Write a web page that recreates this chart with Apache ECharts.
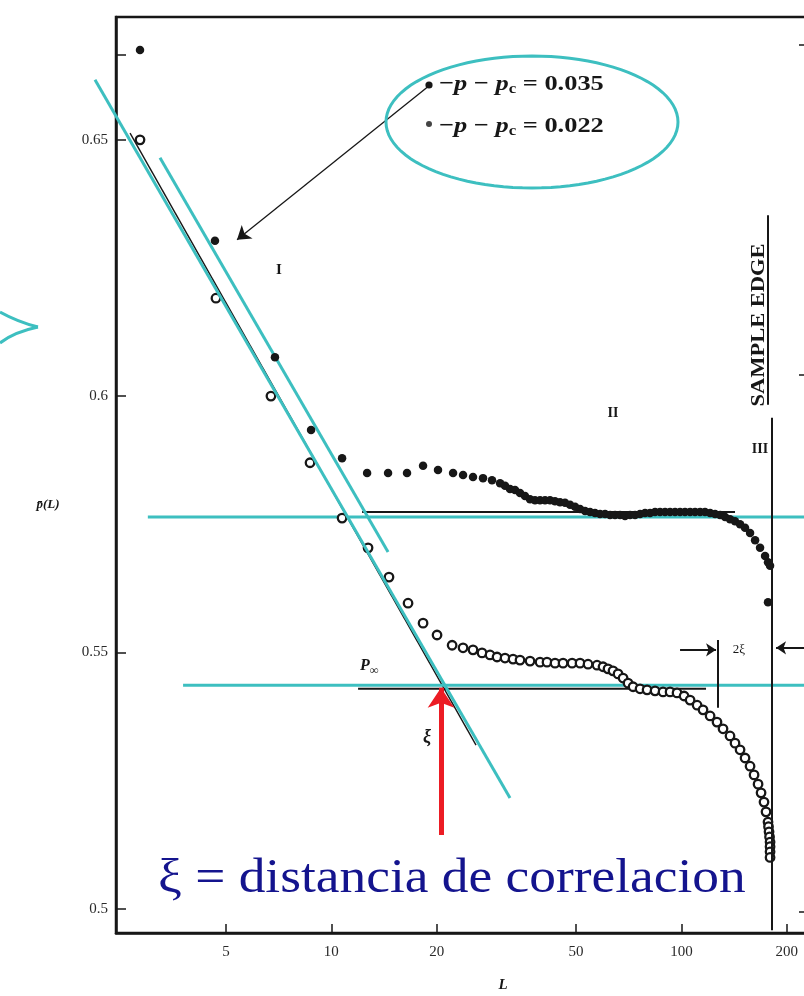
<!DOCTYPE html>
<html>
<head>
<meta charset="utf-8">
<script src="https://cdn.jsdelivr.net/npm/echarts@6/dist/echarts.min.js"></script>
<style>
  html, body { margin: 0; padding: 0; background: #fff; }
  #c { width: 804px; height: 996px; }
</style>
</head>
<body>
<div id="c"></div>
<script>
// Axis ticks
const xTicks = [5, 10, 20, 50, 100, 200];
const yTicks = [0.5, 0.55, 0.6, 0.65];
const yTicksExtra = [0.5, 0.55, 0.6, 0.65, 0.6665];
const yTicksRight = [0.4995, 0.6041, 0.6685];

// p - pc = 0.035 (filled dots)
const L035 = [2.84, 4.65, 6.90, 8.75, 10.73, 12.65, 14.52, 16.45, 18.28, 20.17, 22.27, 23.78, 25.39, 27.12, 28.77, 30.34,
  31.34, 32.39, 33.47, 34.59, 35.75, 36.95, 38.18, 39.46, 40.78, 42.14, 43.55, 45.01, 46.51, 48.07, 49.68, 51.34,
  53.06, 54.83, 56.66, 58.56, 60.52, 62.54, 64.63, 66.80, 69.02, 71.34, 73.72, 76.19, 78.74, 81.37, 84.09, 86.90,
  89.81, 92.82, 95.91, 99.12, 102.4, 105.9, 109.4, 113.1, 116.8, 120.8, 124.8, 129.0, 133.3, 137.7, 142.3, 147.1,
  152.0, 157.1, 162.4, 167.8, 173.4, 176.8, 179.2, 176.8];
const P035 = [0.6675, 0.6303, 0.6076, 0.5934, 0.5879, 0.5850, 0.5850, 0.5850, 0.5864, 0.5856, 0.5850, 0.5846, 0.5842, 0.5840, 0.5836, 0.5830,
  0.5825, 0.5819, 0.5817, 0.5811, 0.5805, 0.5799, 0.5797, 0.5797, 0.5797, 0.5797, 0.5795, 0.5793, 0.5792, 0.5788, 0.5784, 0.5780,
  0.5776, 0.5774, 0.5772, 0.5770, 0.5770, 0.5768, 0.5768, 0.5768, 0.5766, 0.5768, 0.5768, 0.5770, 0.5772, 0.5772, 0.5774, 0.5774,
  0.5774, 0.5774, 0.5774, 0.5774, 0.5774, 0.5774, 0.5774, 0.5774, 0.5774, 0.5772, 0.5770, 0.5768, 0.5764, 0.5760, 0.5756, 0.5750,
  0.5743, 0.5733, 0.5719, 0.5704, 0.5688, 0.5676, 0.5669, 0.5598];

// p - pc = 0.022 (open circles)
const L022 = [2.84, 4.68, 6.72, 8.69, 10.73, 12.73, 14.61, 16.56, 18.28, 20.04, 22.13, 23.78, 25.39, 26.94, 28.40, 29.74,
  31.34, 33.04, 34.59, 36.95, 39.46, 41.31, 43.55, 45.91, 48.72, 51.34, 54.11, 57.41, 59.72, 61.72, 63.78, 65.92,
  68.14, 70.41, 72.77, 76.19, 79.79, 84.09, 88.62, 92.82, 97.18, 101.8, 105.9, 110.9, 115.3, 120.8, 126.4, 131.5,
  137.7, 142.3, 147.1, 152.0, 157.1, 161.3, 165.6, 168.9, 172.2, 174.5, 176.8, 177.4, 178.0, 178.6, 179.2, 179.2, 179.2, 179.2];
const P022 = [0.6500, 0.6191, 0.6000, 0.5870, 0.5762, 0.5704, 0.5647, 0.5596, 0.5557, 0.5534, 0.5514, 0.5509, 0.5505, 0.5499, 0.5495, 0.5491,
  0.5489, 0.5487, 0.5485, 0.5483, 0.5481, 0.5481, 0.5479, 0.5479, 0.5479, 0.5479, 0.5477, 0.5475, 0.5472, 0.5468, 0.5464, 0.5458,
  0.5450, 0.5440, 0.5433, 0.5429, 0.5427, 0.5425, 0.5423, 0.5423, 0.5421, 0.5415, 0.5407, 0.5397, 0.5388, 0.5376, 0.5364, 0.5351,
  0.5337, 0.5323, 0.5310, 0.5294, 0.5278, 0.5261, 0.5243, 0.5226, 0.5208, 0.5189, 0.5169, 0.5160, 0.5150, 0.5140, 0.5130, 0.5121, 0.5111, 0.5100];

// Straight-line guides (L, p pairs)
const fitL = [2.66, 25.9],         fitP = [0.6513, 0.5319];
const plateauHiL = [12.24, 142.3], plateauHiP = [0.5774, 0.5774];
const plateauLoL = [11.92, 117.6], plateauLoP = [0.5429, 0.5429];
const slopeAL = [2.112, 32.39],    slopeAP = [0.6617, 0.5216];
const slopeBL = [3.239, 14.52],    slopeBP = [0.6465, 0.5696];
const levelHiL = [2.99, 260],      levelHiP = [0.5764, 0.5764];
const levelLoL = [3.77, 260],      levelLoP = [0.5436, 0.5436];
const xiL = 20.57, xiArrowP = [0.5144, 0.5431];
const edgeL = 181.6, edgeP = [0.5958, 0.4958];
const edgeLabelL = 176.8, edgeLabelP = [0.6353, 0.5983];
const twoXiBarL = 127.3, twoXiBarP = [0.5524, 0.5392];
const twoXiLeftL = [99.12, 125.6], twoXiLeftP = 0.5505;
const twoXiRightL = [227, 186.4],  twoXiRightP = 0.5509;
const pointerL = [19.14, 5.376],   pointerP = [0.6607, 0.6305];

const INK = '#171717', CYAN = '#3dbfc0', RED = '#ec1c24', NAVY = '#14148e';
const SERIF = '"Liberation Serif", "DejaVu Serif", serif';

const zip = (xs, ys) => xs.map((x, i) => [x, ys[i]]);
const guide = (xs, ys, color, width) => ({
  type: 'line', data: zip(xs, ys), symbol: 'none', silent: true, clip: false,
  lineStyle: { color: color, width: width }, z: 3
});

// Outline of the legend ellipse
const ellipsePts = [];
for (let i = 0; i <= 96; i++) {
  const t = i / 96 * Math.PI * 2;
  ellipsePts.push([532 + 146 * Math.cos(t), 122 + 66 * Math.sin(t)]);
}

const txt = (id, text, x, y, font, extra, elExtra) => Object.assign({
  id: id, type: 'text', x: x, y: y, silent: true, z: 50,
  style: Object.assign({ text: text, font: font, fill: INK, align: 'center', verticalAlign: 'middle' }, (extra || {}))
}, elExtra || {});

const legendRich = {
  t: { font: 'bold 22px ' + SERIF, fill: INK },
  i: { font: 'italic bold 22px ' + SERIF, fill: INK },
  s: { font: 'bold 14px ' + SERIF, fill: INK, padding: [11, 0, 0, 0] }
};

const baseGraphic = [
  { id: 'ellipse', type: 'polyline', shape: { points: ellipsePts }, style: { stroke: CYAN, lineWidth: 3, fill: null }, silent: true, z: 40 },
  { id: 'tipA', type: 'bezierCurve', shape: { x1: 0, y1: 312, cpx1: 18, cpy1: 322, x2: 38, y2: 327 }, style: { stroke: CYAN, lineWidth: 3, fill: null }, silent: true, z: 40 },
  { id: 'tipB', type: 'bezierCurve', shape: { x1: 0, y1: 343, cpx1: 14, cpy1: 332, x2: 38, y2: 327 }, style: { stroke: CYAN, lineWidth: 3, fill: null }, silent: true, z: 40 },
  { id: 'dot1', type: 'circle', shape: { cx: 429, cy: 85, r: 3.6 }, style: { fill: INK }, silent: true, z: 50 },
  { id: 'dot2', type: 'circle', shape: { cx: 429, cy: 124, r: 3 }, style: { fill: '#444' }, silent: true, z: 50 },
  txt('leg1', '{t|−}{i|p}{t| − }{i|p}{s|c}{t| = 0.035}', 439, 84, '', { align: 'left', rich: legendRich }, { scaleX: 1.2 }),
  txt('leg2', '{t|−}{i|p}{t| − }{i|p}{s|c}{t| = 0.022}', 439, 126, '', { align: 'left', rich: legendRich }, { scaleX: 1.2 }),
  txt('r1', 'I', 279, 270, 'bold 15px ' + SERIF),
  txt('r2', 'II', 613, 413, 'bold 14px ' + SERIF),
  txt('r3', 'III', 760, 449, 'bold 14px ' + SERIF),
  txt('edge', 'SAMPLE EDGE', 759, 325, 'bold 18px ' + SERIF, null, { rotation: Math.PI / 2, scaleX: 1.25 }),
  txt('pinf', '{p|P}{s|∞}', 360, 666, '', {
    align: 'left',
    rich: { p: { font: 'italic bold 16px ' + SERIF, fill: INK }, s: { font: 'bold 12px ' + SERIF, fill: INK, padding: [9, 0, 0, 0] } }
  }),
  txt('xi', 'ξ', 427, 737, 'italic bold 18px ' + SERIF),
  txt('twoxi', '2ξ', 739, 650, '13px ' + SERIF),
  txt('xname', 'L', 503, 985, 'italic bold 15px ' + SERIF),
  txt('yname', 'p\u0304(L)', 48, 505, 'italic bold 13px ' + SERIF),
  txt('caption', 'ξ = distancia de correlacion', 158, 879, '49px ' + SERIF, { fill: NAVY, align: 'left' }, { scaleX: 1.09 })
];

const option = {
  animation: false,
  backgroundColor: '#fff',
  grid: {
    left: 116, width: 692, top: 17, bottom: 63, outerBoundsMode: 'none', containLabel: false,
    show: true, borderColor: INK, borderWidth: 2.5, backgroundColor: 'transparent'
  },
  xAxis: {
    type: 'log', min: 2.425, max: 230,
    axisLine: { show: true, lineStyle: { color: INK, width: 2.5 } },
    axisTick: { show: true, inside: true, length: 9, customValues: xTicks, lineStyle: { color: INK, width: 1.5 } },
    axisLabel: { customValues: xTicks, formatter: v => String(v), margin: 12, color: '#2a2a2a', fontFamily: SERIF, fontSize: 15 },
    splitLine: { show: false }, minorTick: { show: false }
  },
  yAxis: [{
    type: 'value', min: 0.49526, max: 0.67396,
    axisLine: { show: true, lineStyle: { color: INK, width: 2.5 } },
    axisTick: { show: true, inside: true, length: 10, customValues: yTicksExtra, lineStyle: { color: INK, width: 1.5 } },
    axisLabel: { customValues: yTicks, formatter: v => String(v), margin: 8, color: '#2a2a2a', fontFamily: SERIF, fontSize: 15 },
    splitLine: { show: false }
  }, {
    type: 'value', min: 0.49526, max: 0.67396, position: 'right',
    axisLine: { show: true, lineStyle: { color: INK, width: 2.5 } },
    axisTick: { show: true, inside: true, length: 9, customValues: yTicksRight, lineStyle: { color: INK, width: 1.5 } },
    axisLabel: { show: false }, splitLine: { show: false }
  }],
  series: [
    guide(fitL, fitP, INK, 1.4),
    guide(plateauHiL, plateauHiP, INK, 2),
    guide(plateauLoL, plateauLoP, INK, 2),
    {
      name: 'p - pc = 0.035', type: 'scatter', data: zip(L035, P035), symbol: 'circle', symbolSize: 8.5,
      itemStyle: { color: INK, opacity: 1 }, z: 4, silent: true
    },
    {
      name: 'p - pc = 0.022', type: 'scatter', data: zip(L022, P022), symbol: 'circle', symbolSize: 8.5,
      itemStyle: { color: '#fff', borderColor: INK, borderWidth: 2.3, opacity: 1 }, z: 4, silent: true
    },
    guide(slopeBL, slopeBP, CYAN, 3),
    guide(levelHiL, levelHiP, CYAN, 3),
    guide(levelLoL, levelLoP, CYAN, 3),
    {
      type: 'line', data: [], clip: false, silent: true,
      markLine: {
        silent: true, symbol: 'none', label: { show: false }, animation: false,
        data: [
          [{ coord: [edgeL, edgeP[0]], lineStyle: { color: INK, width: 2, type: 'solid' } }, { coord: [edgeL, edgeP[1]] }],
          [{ coord: [edgeLabelL, edgeLabelP[0]], lineStyle: { color: INK, width: 2, type: 'solid' } }, { coord: [edgeLabelL, edgeLabelP[1]] }],
          [{ coord: [twoXiBarL, twoXiBarP[0]], lineStyle: { color: INK, width: 2, type: 'solid' } }, { coord: [twoXiBarL, twoXiBarP[1]] }],
          [{ coord: [twoXiLeftL[0], twoXiLeftP], symbol: 'none', lineStyle: { color: INK, width: 2, type: 'solid' } },
           { coord: [twoXiLeftL[1], twoXiLeftP], symbol: 'arrow', symbolSize: 10 }],
          [{ coord: [twoXiRightL[0], twoXiRightP], symbol: 'none', lineStyle: { color: INK, width: 2, type: 'solid' } },
           { coord: [twoXiRightL[1], twoXiRightP], symbol: 'arrow', symbolSize: 10 }],
          [{ coord: [pointerL[0], pointerP[0]], symbol: 'none', lineStyle: { color: INK, width: 1.3, type: 'solid' } },
           { coord: [pointerL[1], pointerP[1]], symbol: 'arrow', symbolSize: 13 }],
          [{ coord: [xiL, xiArrowP[0]], symbol: 'none', lineStyle: { color: RED, width: 5, type: 'solid' }, itemStyle: { color: RED } },
           { coord: [xiL, xiArrowP[1]], symbol: 'arrow', symbolSize: 20, itemStyle: { color: RED } }]
        ]
      },
      z: 5
    }
  ],
  graphic: baseGraphic
};

const chart = echarts.init(document.getElementById('c'));
chart.setOption(option);

// The long slope guide starts left of the y axis, so it is placed through the axis scales
// and drawn as an unclipped line.
const a = chart.convertToPixel({ gridIndex: 0 }, [slopeAL[0], slopeAP[0]]);
const b = chart.convertToPixel({ gridIndex: 0 }, [slopeAL[1], slopeAP[1]]);
chart.setOption({
  graphic: baseGraphic.concat([{
    id: 'slopeA', type: 'line', silent: true, z: 30,
    shape: { x1: a[0], y1: a[1], x2: b[0], y2: b[1] },
    style: { stroke: CYAN, lineWidth: 3 }
  }])
});
</script>
</body>
</html>
